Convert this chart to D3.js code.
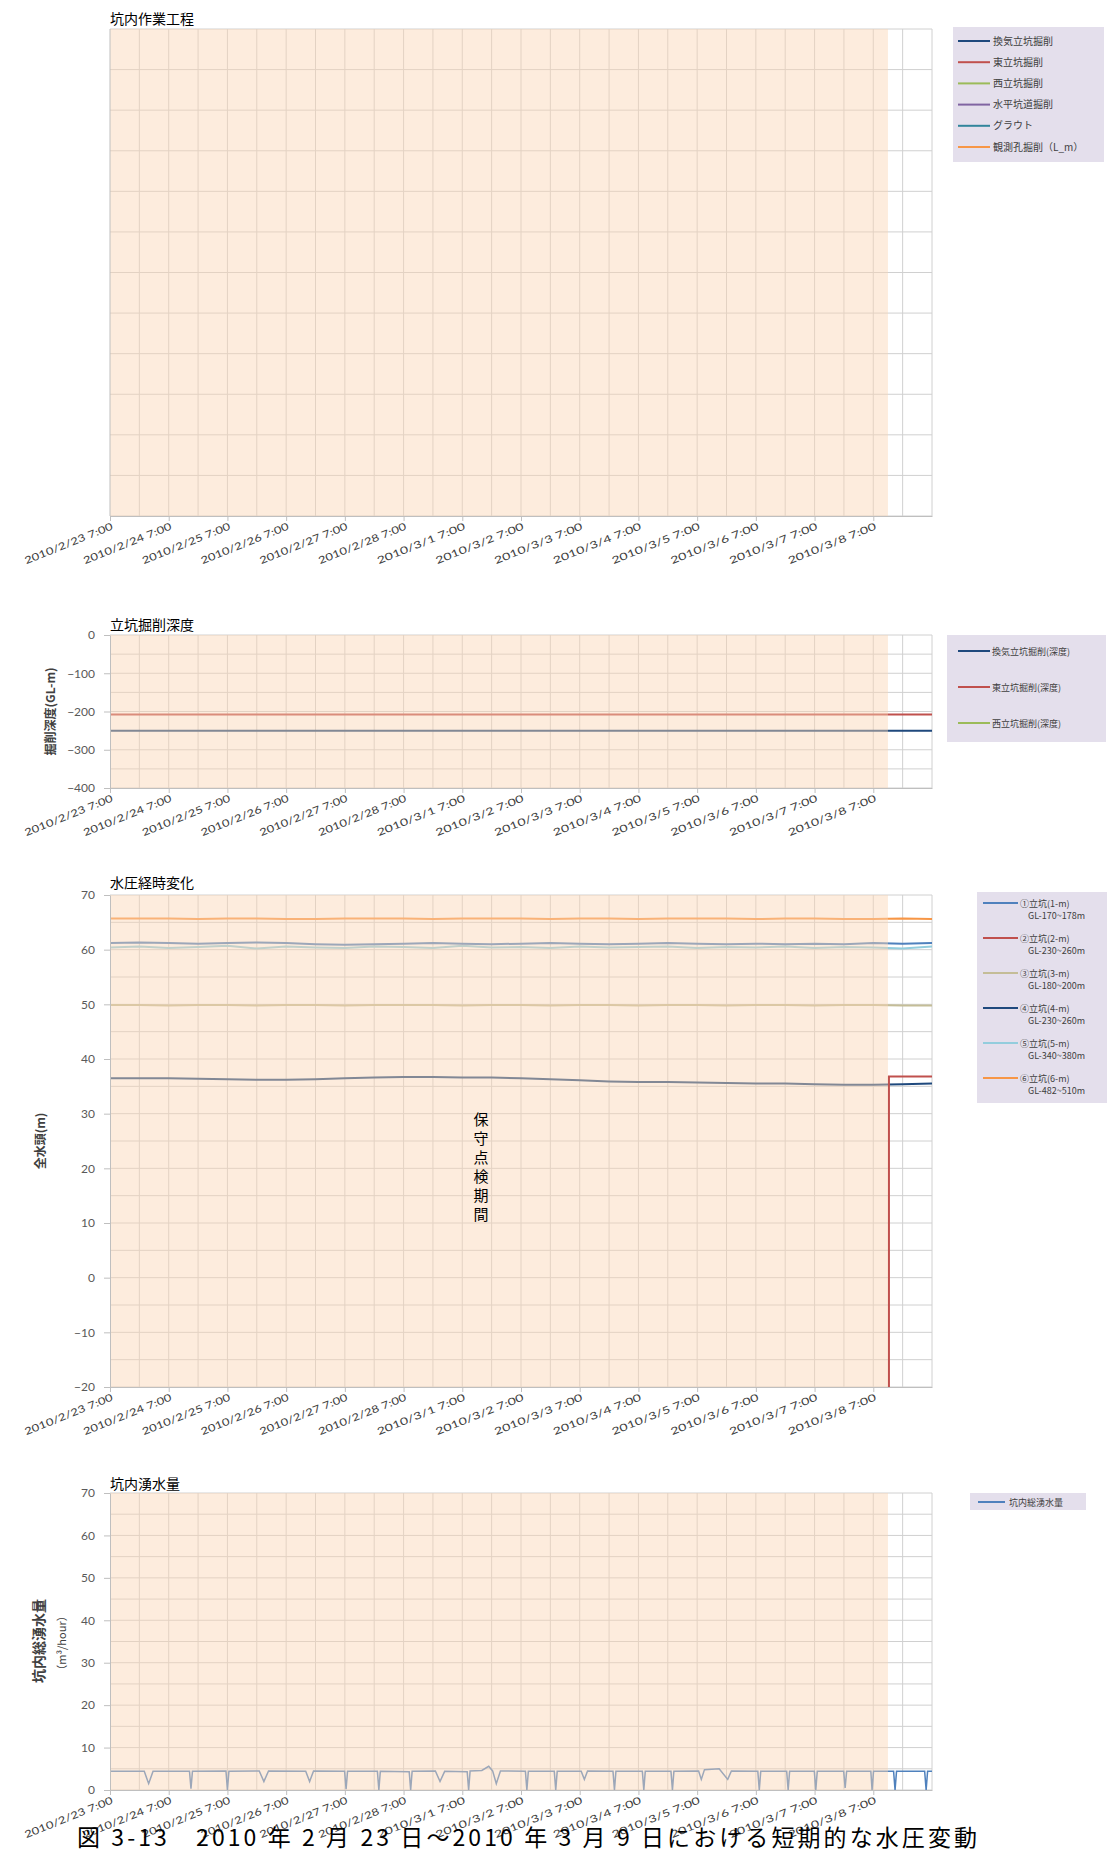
<!DOCTYPE html>
<html>
<head>
<meta charset="utf-8">
<script src="https://cdn.jsdelivr.net/npm/d3@7"></script>
<style>
  body { margin: 0; background: #fff; }
  text { font-family: "Noto Sans CJK JP", "Noto Sans", sans-serif; }
</style>
</head>
<body>
<div id="chart"></div>
<script>
/* x axis: hours since 2010/2/23 7:00 */
var xTickLabels = ["2010/2/23 7:00", "2010/2/24 7:00", "2010/2/25 7:00", "2010/2/26 7:00",
  "2010/2/27 7:00", "2010/2/28 7:00", "2010/3/1 7:00", "2010/3/2 7:00", "2010/3/3 7:00",
  "2010/3/4 7:00", "2010/3/5 7:00", "2010/3/6 7:00", "2010/3/7 7:00", "2010/3/8 7:00"];
var xTickHours = [0, 24, 48, 72, 96, 120, 144, 168, 192, 216, 240, 264, 288, 312];
var xMaxHours = 336;
var maintenanceHours = [0, 318];   // 保守点検期間

/* panel 1: 坑内作業工程 (legend only) */
var workNames = ["換気立坑掘削", "東立坑掘削", "西立坑掘削", "水平坑道掘削", "グラウト", "観測孔掘削（L_m）"];
var workColors = ["#1F497D", "#C0504D", "#9BBB59", "#8064A2", "#31859C", "#F79646"];

/* panel 2: 立坑掘削深度 */
var depthNames = ["換気立坑掘削(深度)", "東立坑掘削(深度)", "西立坑掘削(深度)"];
var depthColors = ["#1F497D", "#C0504D", "#9BBB59"];
var depthHours = [0, 336];
var depthVent = [-250, -250];
var depthEast = [-208, -208];

/* panel 3: 水圧経時変化 */
var pressureNames = ["①立坑(1-m)", "②立坑(2-m)", "③立坑(3-m)", "④立坑(4-m)", "⑤立坑(5-m)", "⑥立坑(6-m)"];
var pressureDepths = ["GL-170~178m", "GL-230~260m", "GL-180~200m", "GL-230~260m", "GL-340~380m", "GL-482~510m"];
var pressureColors = ["#4F81BD", "#C0504D", "#C4BD97", "#1F497D", "#93CDDD", "#F79646"];
var pressureHours = [0, 12, 24, 36, 48, 60, 72, 84, 96, 108, 120, 132, 144, 156, 168, 180, 192,
  204, 216, 228, 240, 252, 264, 276, 288, 300, 312, 324, 336];
var pressure1 = [61.2, 61.3, 61.2, 61.1, 61.2, 61.3, 61.2, 61.0, 60.9, 61.0, 61.1, 61.2, 61.1, 61.0,
  61.1, 61.2, 61.1, 61.0, 61.1, 61.2, 61.1, 61.0, 61.1, 61.0, 61.1, 61.0, 61.2, 61.1, 61.2];
var pressure3 = [49.9, 49.9, 49.8, 49.9, 49.9, 49.8, 49.9, 49.9, 49.8, 49.9, 49.9, 49.9, 49.8, 49.9,
  49.9, 49.8, 49.9, 49.9, 49.8, 49.9, 49.9, 49.8, 49.9, 49.9, 49.8, 49.9, 49.9, 49.8, 49.8];
var pressure4 = [36.5, 36.5, 36.5, 36.4, 36.3, 36.2, 36.2, 36.3, 36.5, 36.6, 36.7, 36.7, 36.6, 36.6,
  36.5, 36.3, 36.1, 35.9, 35.8, 35.8, 35.7, 35.6, 35.5, 35.5, 35.4, 35.3, 35.3, 35.4, 35.5];
var pressure5 = [60.4, 60.6, 60.3, 60.5, 60.7, 60.2, 60.6, 60.4, 60.3, 60.6, 60.5, 60.3, 60.7, 60.4,
  60.5, 60.3, 60.6, 60.4, 60.5, 60.6, 60.3, 60.5, 60.4, 60.6, 60.3, 60.5, 60.4, 60.2, 60.6];
var pressure6 = [65.7, 65.7, 65.7, 65.6, 65.7, 65.7, 65.6, 65.6, 65.7, 65.7, 65.7, 65.6, 65.7, 65.7,
  65.7, 65.6, 65.7, 65.7, 65.6, 65.7, 65.7, 65.7, 65.6, 65.7, 65.7, 65.6, 65.6, 65.7, 65.6];
var pressure2Hours = [0, 318.4, 318.4, 336];
var pressure2 = [-25, -25, 36.8, 36.8];

/* panel 4: 坑内湧水量 */
var inflowName = "坑内総湧水量";
var inflowColor = "#4F81BD";
var inflowHours = [0, 14, 15.8, 17.6, 32.5, 33.1, 33.7, 47.4, 48, 48.6, 61, 62.9, 64.8, 80, 81.6, 83.2,
  95.9, 96.5, 97.1, 109.3, 109.9, 110.5, 122.3, 122.9, 123.5, 133, 134.9, 136.8, 146, 146.6, 147.2,
  152, 154.8, 156.4, 157.9, 159.6, 169.8, 170.4, 171, 181.6, 182.2, 182.8, 192.6, 193.9, 195.2,
  205.6, 206.2, 206.8, 217.6, 218.2, 218.8, 229.3, 229.9, 230.5, 240.6, 241.7, 243, 249, 252.5, 254,
  264.8, 265.4, 266, 276.6, 277.2, 277.8, 287.9, 288.5, 289.1, 299.9, 300.5, 301.1, 311, 311.5, 312.1,
  320.3, 320.9, 321.5, 333, 333.6, 334.2, 336];
var inflowValues = [4.4, 4.4, 1.5, 4.4, 4.4, 0.3, 4.4, 4.5, 0, 4.4, 4.5, 2.0, 4.5, 4.4, 2.0, 4.5,
  4.4, 0.2, 4.4, 4.4, 0, 4.4, 4.3, 0, 4.4, 4.5, 2.0, 4.4, 4.3, 0, 4.5,
  4.6, 5.6, 4.5, 1.5, 4.5, 4.4, 0, 4.4, 4.4, 0, 4.4, 4.4, 2.5, 4.5,
  4.4, 0, 4.4, 4.4, 0, 4.4, 4.4, 0, 4.4, 4.5, 2.5, 4.8, 5.0, 2.5, 4.5,
  4.4, 0, 4.4, 4.4, 0, 4.4, 4.4, 0, 4.4, 4.4, 0.5, 4.4, 4.4, 0, 4.4,
  4.4, 0, 4.4, 4.4, 0, 4.4, 4.4];

var W = 1109, H = 1854;
var plotLeft = 110, plotRight = 932;

var svg = d3.select("#chart").append("svg")
  .attr("width", W)
  .attr("height", H)
  .style("background", "#fff");

var x = d3.scaleLinear().domain([0, xMaxHours]).range([plotLeft, plotRight]);

function toPoints(hours, values) {
  return hours.map(function (h, i) { return [h, values[i]]; });
}

function drawPanel(p) {
  var y = d3.scaleLinear().domain(p.yDomain).range([p.bottom, p.top]);
  var g = svg.append("g").attr("class", "panel-" + p.id);

  svg.append("clipPath").attr("id", "clip-" + p.id)
    .append("rect")
    .attr("x", plotLeft)
    .attr("y", p.top)
    .attr("width", plotRight - plotLeft)
    .attr("height", p.bottom - p.top);

  // horizontal grid
  g.append("g").selectAll("line")
    .data(d3.range(p.yDomain[0], p.yDomain[1] + 0.001, p.gridStep))
    .enter().append("line")
    .attr("x1", plotLeft).attr("x2", plotRight)
    .attr("y1", function (d) { return y(d); })
    .attr("y2", function (d) { return y(d); })
    .attr("stroke", "#D0D0D0")
    .attr("stroke-width", 1);

  // vertical grid every 12 hours
  g.append("g").selectAll("line")
    .data(d3.range(12, xMaxHours + 1, 12))
    .enter().append("line")
    .attr("x1", function (d) { return x(d); })
    .attr("x2", function (d) { return x(d); })
    .attr("y1", p.top).attr("y2", p.bottom)
    .attr("stroke", "#D0D0D0")
    .attr("stroke-width", 1);

  var line = d3.line()
    .x(function (d) { return x(d[0]); })
    .y(function (d) { return y(d[1]); });

  var lines = g.append("g").attr("clip-path", "url(#clip-" + p.id + ")");
  p.series.forEach(function (s) {
    lines.append("path")
      .datum(toPoints(s.hours, s.values))
      .attr("fill", "none")
      .attr("stroke", s.color)
      .attr("stroke-width", s.width || 2)
      .attr("d", line);
  });

  // maintenance period shading
  g.append("rect")
    .attr("x", x(maintenanceHours[0]))
    .attr("y", p.top)
    .attr("width", x(maintenanceHours[1]) - x(maintenanceHours[0]))
    .attr("height", p.bottom - p.top)
    .attr("fill", "#FBD4B4")
    .attr("opacity", 0.45);

  // red jump drawn above shading
  var front = g.append("g").attr("clip-path", "url(#clip-" + p.id + ")");
  (p.front || []).forEach(function (s) {
    front.append("path")
      .datum(toPoints(s.hours, s.values))
      .attr("fill", "none")
      .attr("stroke", s.color)
      .attr("stroke-width", 2)
      .attr("d", line);
  });

  var xaxis = d3.axisBottom(x)
    .tickValues(xTickHours)
    .tickSize(5)
    .tickSizeOuter(0)
    .tickFormat(function (d, i) { return xTickLabels[i]; });

  var gx = g.append("g")
    .attr("transform", "translate(0," + p.bottom + ")")
    .call(xaxis);
  gx.select(".domain").attr("stroke", "#BFBFBF");
  gx.selectAll(".tick line").attr("stroke", "#BFBFBF");
  gx.selectAll(".tick text")
    .attr("x", 0).attr("y", 0).attr("dy", 0)
    .attr("transform", "translate(3,13) rotate(-22)")
    .style("text-anchor", "end")
    .style("font-family", "Lato, 'Liberation Sans', sans-serif")
    .style("font-size", "10px")
    .attr("textLength", 94)
    .attr("lengthAdjust", "spacingAndGlyphs")
    .attr("fill", "#404040");

  if (p.yTicks) {
    var yaxis = d3.axisLeft(y).tickValues(p.yTicks).tickSize(6).tickSizeOuter(0).tickPadding(9);
    var gy = g.append("g")
      .attr("transform", "translate(" + plotLeft + ",0)")
      .call(yaxis);
    gy.select(".domain").attr("stroke", "#BFBFBF");
    gy.selectAll(".tick line").attr("stroke", "#BFBFBF");
    gy.selectAll(".tick text")
      .style("font-family", "Lato, 'Liberation Sans', sans-serif")
      .style("font-size", "12px")
      .attr("fill", "#595959");
  } else {
    g.append("line")
      .attr("x1", plotLeft).attr("x2", plotLeft)
      .attr("y1", p.top).attr("y2", p.bottom)
      .attr("stroke", "#BFBFBF");
  }

  svg.append("text")
    .attr("x", plotLeft)
    .attr("y", p.titleY)
    .style("font-size", "14px")
    .attr("fill", "#000")
    .text(p.title);

  if (p.yTitle) {
    svg.append("text")
      .attr("transform", "translate(" + p.yTitleX + "," + ((p.top + p.bottom) / 2) + ") rotate(-90)")
      .style("text-anchor", "middle")
      .style("font-size", "12px")
      .style("font-weight", "700")
      .attr("fill", "#404040")
      .text(p.yTitle);
  }
  return y;
}

function drawLegend(box, names, colors, sub, opts) {
  svg.append("rect")
    .attr("x", box[0]).attr("y", box[1])
    .attr("width", box[2]).attr("height", box[3])
    .attr("fill", "#E4DFEC");
  names.forEach(function (n, i) {
    var yy = opts.y0 + i * opts.step;
    svg.append("line")
      .attr("x1", opts.lx0).attr("x2", opts.lx1)
      .attr("y1", yy).attr("y2", yy)
      .attr("stroke", colors[i])
      .attr("stroke-width", 2);
    svg.append("text")
      .attr("x", opts.tx)
      .attr("y", yy + 3.5)
      .style("font-size", opts.fs + "px")
      .attr("fill", "#404040")
      .text(n);
    if (sub) {
      svg.append("text")
        .attr("x", opts.tx + 8)
        .attr("y", yy + 16)
        .style("font-size", opts.fs + "px")
        .attr("fill", "#404040")
        .text(sub[i]);
    }
  });
}

/* panel 1 */
drawPanel({
  id: 1, top: 29, bottom: 516, yDomain: [0, 12], gridStep: 1,
  title: "坑内作業工程", titleY: 24, series: []
});
drawLegend([953, 27, 151, 135], workNames, workColors, null,
  { y0: 41, step: 21.2, lx0: 958, lx1: 990, tx: 993, fs: 10 });

/* panel 2 */
drawPanel({
  id: 2, top: 635, bottom: 788, yDomain: [-400, 0], gridStep: 50,
  yTicks: [-400, -300, -200, -100, 0],
  title: "立坑掘削深度", titleY: 630,
  yTitle: "掘削深度(GL-m)", yTitleX: 55,
  series: [
    { hours: depthHours, values: depthVent, color: depthColors[0] },
    { hours: depthHours, values: depthEast, color: depthColors[1] }
  ]
});
drawLegend([947, 635, 159, 107], depthNames, depthColors, null,
  { y0: 651, step: 36, lx0: 958, lx1: 990, tx: 992, fs: 9 });

/* panel 3 */
drawPanel({
  id: 3, top: 895, bottom: 1387, yDomain: [-20, 70], gridStep: 5,
  yTicks: [-20, -10, 0, 10, 20, 30, 40, 50, 60, 70],
  title: "水圧経時変化", titleY: 888,
  yTitle: "全水頭(m)", yTitleX: 45,
  series: [
    { hours: pressureHours, values: pressure6, color: pressureColors[5] },
    { hours: pressureHours, values: pressure3, color: pressureColors[2] },
    { hours: pressureHours, values: pressure5, color: pressureColors[4] },
    { hours: pressureHours, values: pressure1, color: pressureColors[0] },
    { hours: pressureHours, values: pressure4, color: pressureColors[3] }
  ],
  front: [
    { hours: pressure2Hours, values: pressure2, color: pressureColors[1] }
  ]
});
drawLegend([977, 892, 130, 211], pressureNames, pressureColors, pressureDepths,
  { y0: 903, step: 35, lx0: 983, lx1: 1018, tx: 1020, fs: 9 });

svg.append("text")
  .attr("x", 481)
  .attr("y", 1112)
  .style("font-size", "15px")
  .style("writing-mode", "vertical-rl")
  .style("text-orientation", "upright")
  .style("letter-spacing", "4px")
  .attr("fill", "#000")
  .text("保守点検期間");

/* panel 4 */
drawPanel({
  id: 4, top: 1493, bottom: 1790, yDomain: [0, 70], gridStep: 5,
  yTicks: [0, 10, 20, 30, 40, 50, 60, 70],
  title: "坑内湧水量", titleY: 1489,
  series: [
    { hours: inflowHours, values: inflowValues, color: inflowColor, width: 1.5 }
  ]
});
svg.append("text")
  .attr("transform", "translate(44,1641) rotate(-90)")
  .style("text-anchor", "middle")
  .style("font-size", "14px")
  .style("font-weight", "700")
  .attr("fill", "#404040")
  .text("坑内総湧水量");
svg.append("text")
  .attr("transform", "translate(66,1643) rotate(-90)")
  .style("text-anchor", "middle")
  .style("font-size", "11px")
  .attr("fill", "#404040")
  .text("（m³/hour）");
drawLegend([970, 1493, 116, 17], [inflowName], [inflowColor], null,
  { y0: 1502, step: 0, lx0: 978, lx1: 1005, tx: 1009, fs: 9 });

/* caption */
svg.append("text")
  .attr("x", 77)
  .attr("y", 1846)
  .style("font-size", "23px")
  .attr("textLength", 900)
  .attr("lengthAdjust", "spacing")
  .attr("fill", "#000")
  .text("図 3-13　2010 年 2 月 23 日～2010 年 3 月 9 日における短期的な水圧変動");
</script>
</body>
</html>
